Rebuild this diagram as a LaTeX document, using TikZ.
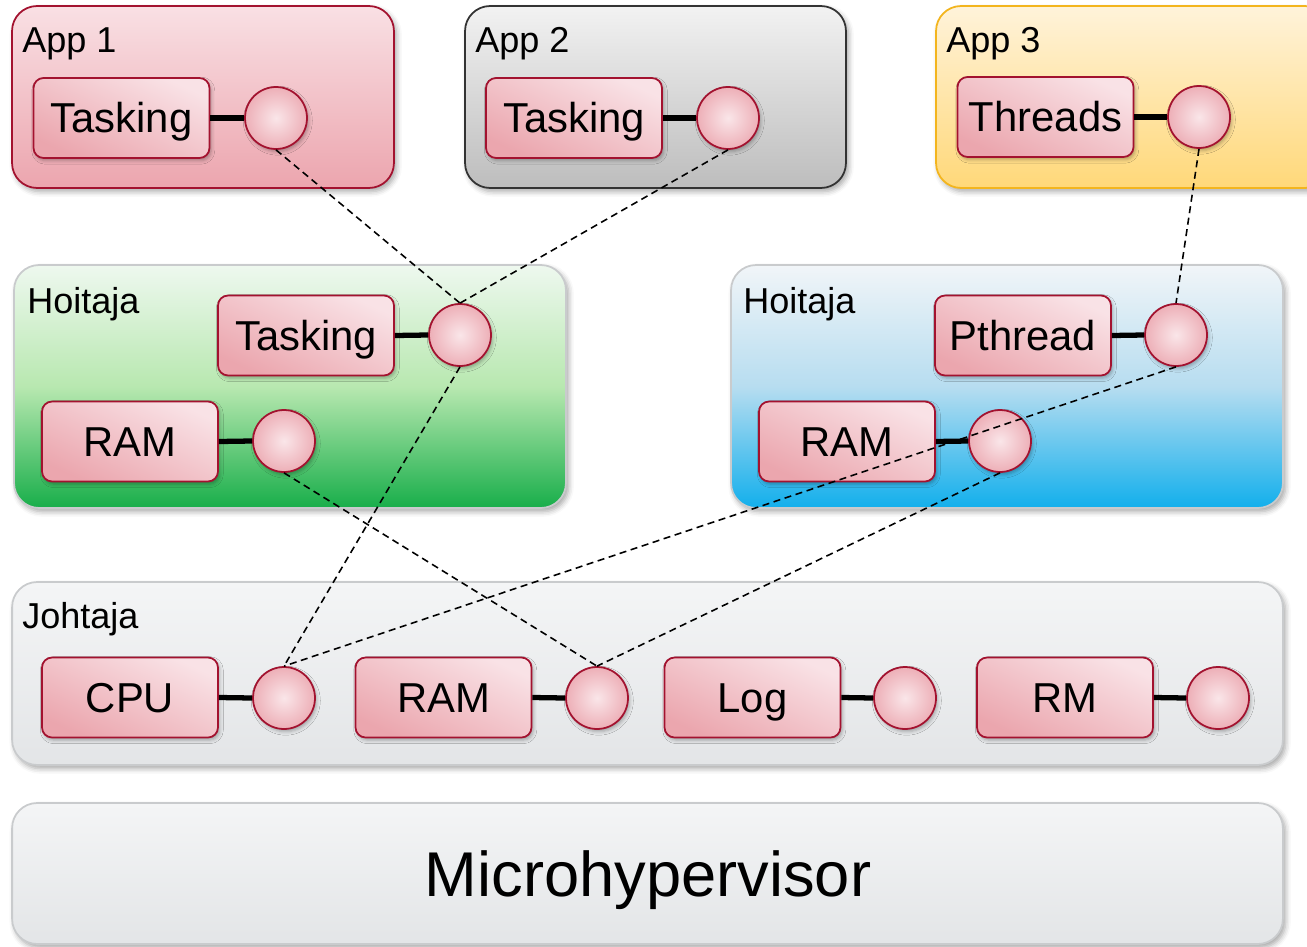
\documentclass[tikz,border=0pt]{standalone}
\usepackage{fontspec}
\setmainfont{Liberation Sans}
\usetikzlibrary{shadows.blur}

\definecolor{redline}{HTML}{A3122F}
\definecolor{pinkhi}{HTML}{F9E2E6}
\definecolor{pinklo}{HTML}{EBA6AE}
\definecolor{porthi}{HTML}{FAE6E9}
\definecolor{portlo}{HTML}{EDAFB7}
\definecolor{apponetop}{HTML}{F9E0E4}
\definecolor{apponebot}{HTML}{ECA5AE}
\definecolor{apptwotop}{HTML}{F2F2F2}
\definecolor{apptwobot}{HTML}{BDBDBD}
\definecolor{appthreetop}{HTML}{FFF3DA}
\definecolor{appthreebot}{HTML}{FFD879}
\definecolor{appthreeline}{HTML}{F3B51E}
\definecolor{greentop}{HTML}{EEF8EF}
\definecolor{greenmid}{HTML}{B8E8B0}
\definecolor{greenbot}{HTML}{18AE4A}
\definecolor{bluetop}{HTML}{F1F5F8}
\definecolor{bluemid}{HTML}{B7DDF0}
\definecolor{bluebot}{HTML}{12AFEC}
\definecolor{greytop}{HTML}{F4F5F6}
\definecolor{greybot}{HTML}{E3E5E7}
\definecolor{paleline}{HTML}{C9CBCD}

\begin{document}
\begin{tikzpicture}[x=0.02cm, y=-0.02cm,
  container/.style={rounded corners=0.5cm, line width=1pt,
    blur shadow={shadow xshift=1.5pt, shadow yshift=-2pt, shadow blur radius=3pt, shadow opacity=35}},
  layerlabel/.style={anchor=base west, inner sep=0pt, font=\fontsize{20.5}{24}\selectfont},
  stepbox/.style={draw=redline, line width=1pt, rounded corners=0.2cm,
    top color=pinkhi, bottom color=pinklo, shading angle=-25,
    minimum width=3.52cm, minimum height=1.6cm, inner sep=0pt,
    text height=17pt, text depth=0pt,
    font=\fontsize{23.8}{28}\selectfont,
    blur shadow={shadow xshift=1pt, shadow yshift=-1.5pt, shadow blur radius=2pt, shadow opacity=30}},
  port/.style={circle, draw=redline, line width=1pt, inner color=porthi, outer color=portlo,
    minimum size=1.24cm, inner sep=0pt,
    blur shadow={shadow xshift=1pt, shadow yshift=-1.5pt, shadow blur radius=2pt, shadow opacity=30}},
  stub/.style={line width=3pt, black},
  dashlink/.style={dashed, dash pattern=on 4pt off 2.6pt, line width=0.9pt, black}]

\useasboundingbox (0,0) rectangle (1307,946);

% ---------------- containers ----------------
\node[container, draw=redline, top color=apponetop, bottom color=apponebot,
  minimum width=7.64cm, minimum height=3.64cm] (app1) at (203,97) {};
\node[container, draw=black!80, top color=apptwotop, bottom color=apptwobot,
  minimum width=7.62cm, minimum height=3.64cm] (app2) at (655.5,97) {};
\node[container, draw=appthreeline, top color=appthreetop, bottom color=appthreebot,
  minimum width=7.88cm, minimum height=3.64cm] (app3) at (1133,97) {};

\node[container, draw=paleline, top color=greentop, bottom color=greenbot, middle color=greenmid,
  minimum width=11.04cm, minimum height=4.86cm] (hoi1) at (290,386.5) {};
\node[container, draw=paleline, top color=bluetop, bottom color=bluebot, middle color=bluemid,
  minimum width=11.04cm, minimum height=4.86cm] (hoi2) at (1007,386.5) {};

\node[container, draw=paleline, top color=greytop, bottom color=greybot,
  minimum width=25.42cm, minimum height=3.66cm] (joh) at (647.5,673.5) {};
\node[container, draw=paleline, top color=greytop, bottom color=greybot,
  minimum width=25.42cm, minimum height=2.82cm] (micro) at (647.5,873.5) {};

% ---------------- container labels ----------------
\node[layerlabel] (lapp1) at (22,53) {App 1};
\node[layerlabel] (lapp2) at (475,53) {App 2};
\node[layerlabel] (lapp3) at (946,53) {App 3};
\node[layerlabel] (lhoi1) at (27,313) {Hoitaja};
\node[layerlabel] (lhoi2) at (743,313) {Hoitaja};
\node[layerlabel] (ljoh) at (22,628) {Johtaja};
\node[anchor=base, inner sep=0pt, font=\fontsize{36}{42}\selectfont] (lmicro) at (648,896) {Microhypervisor};

% ---------------- components and their ports ----------------
\node[stepbox] (a1t) at (121.5,118) {Tasking};
\node[port] (a1p) at (276,118) {};
\node[stepbox] (a2t) at (574,118) {Tasking};
\node[port] (a2p) at (728,118) {};
\node[stepbox] (a3t) at (1045.5,117) {Threads};
\node[port] (a3p) at (1199,117) {};

\node[stepbox] (h1t) at (306,335.5) {Tasking};
\node[port] (h1tp) at (460,335) {};
\node[stepbox] (h1r) at (130,441.5) {RAM};
\node[port] (h1rp) at (284,441) {};

\node[stepbox] (h2p) at (1023,335.5) {Pthread};
\node[port] (h2pp) at (1176,335) {};
\node[stepbox] (h2r) at (847,441.5) {RAM};
\node[port] (h2rp) at (1000,441) {};

\node[stepbox] (jcpu) at (130,697.5) {CPU};
\node[port] (jcpup) at (284,698) {};
\node[stepbox] (jram) at (443.5,697.5) {RAM};
\node[port] (jramp) at (597,698) {};
\node[stepbox] (jlog) at (752.5,697.5) {Log};
\node[port] (jlogp) at (905,698) {};
\node[stepbox] (jrm) at (1065,697.5) {RM};
\node[port] (jrmp) at (1218,698) {};

% ---------------- stubs between components and ports ----------------
\foreach \b/\p in {a1t/a1p, a2t/a2p, a3t/a3p, h1t/h1tp, h1r/h1rp, h2p/h2pp, h2r/h2rp,
                   jcpu/jcpup, jram/jramp, jlog/jlogp, jrm/jrmp}
  \draw[stub] (\b.east) -- (\p.west);

% ---------------- dashed bindings ----------------
\draw[dashlink] (a1p.south) -- (h1tp.north);
\draw[dashlink] (a2p.south) -- (h1tp.north);
\draw[dashlink] (a3p.south) -- (h2pp.north);
\draw[dashlink] (h1tp.south) -- (jcpup.north);
\draw[dashlink] (h2pp.south) -- (jcpup.north);
\draw[dashlink] (h1rp.south) -- (jramp.north);
\draw[dashlink] (h2rp.south) -- (jramp.north);

\end{tikzpicture}
\end{document}
